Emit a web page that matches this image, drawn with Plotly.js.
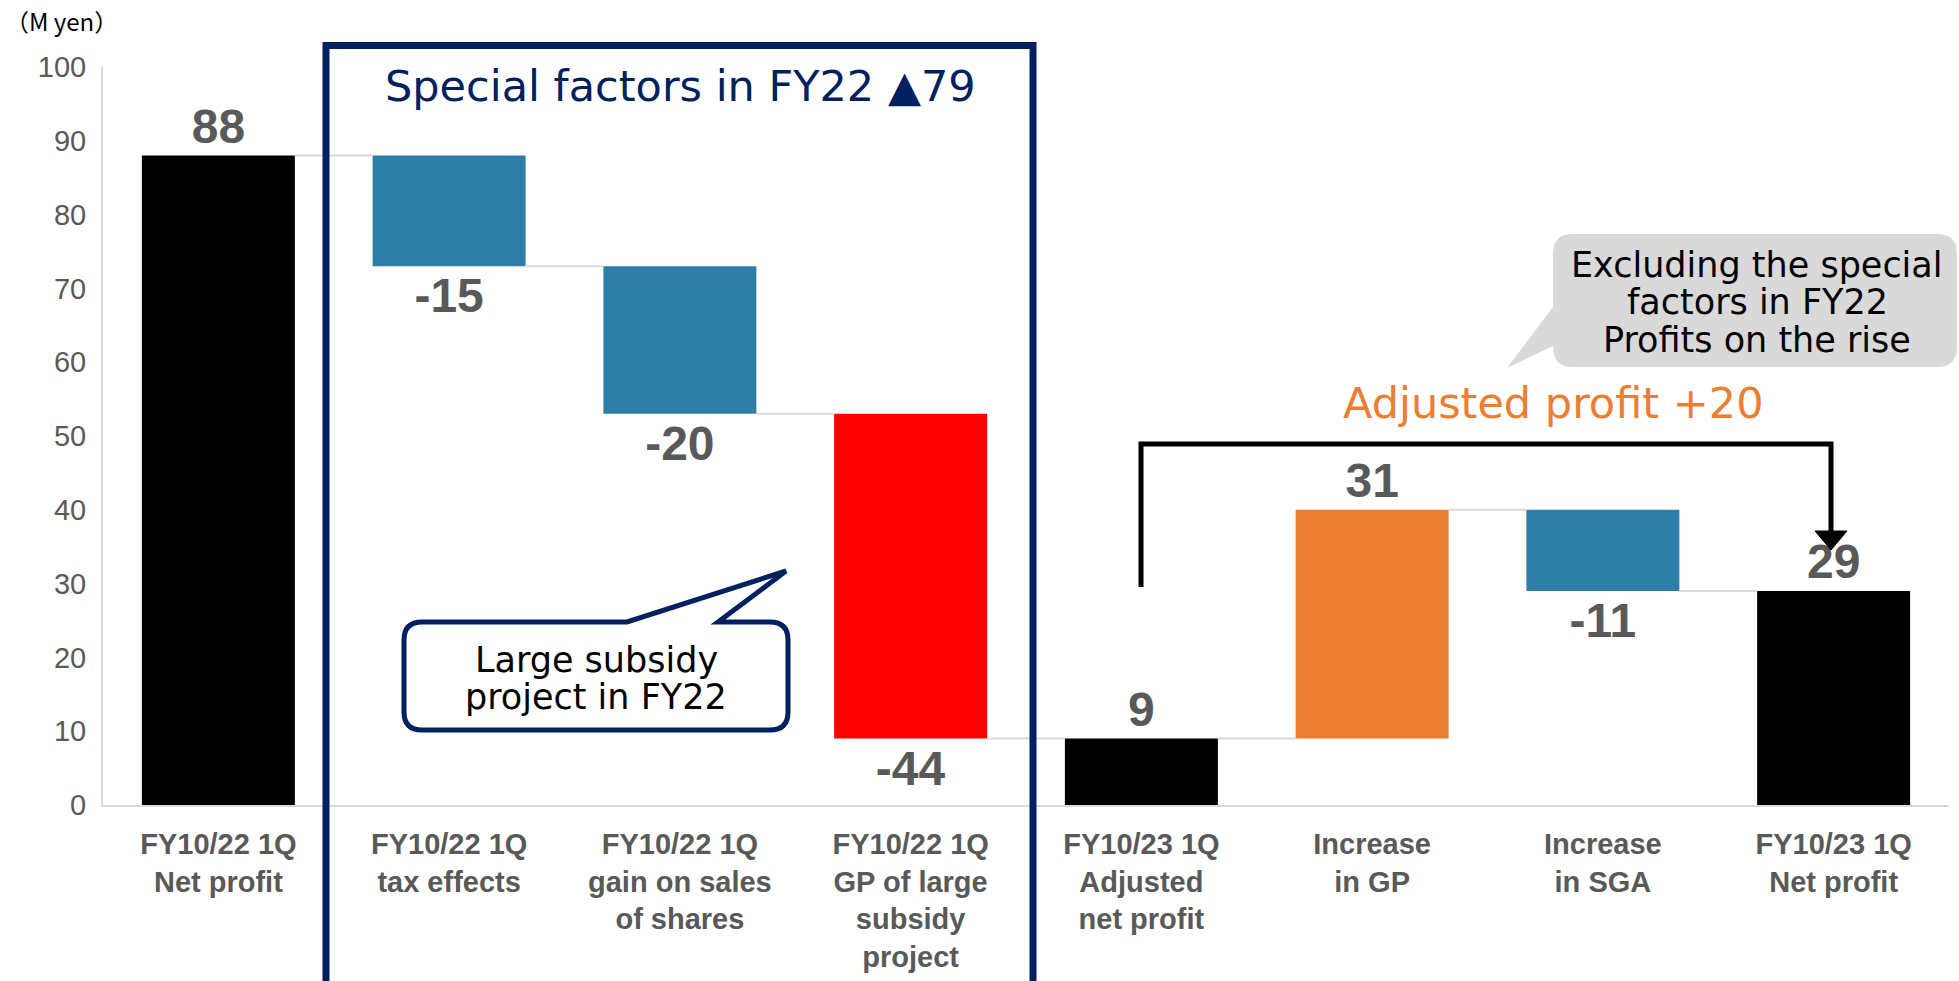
<!DOCTYPE html>
<html>
<head>
<meta charset="utf-8">
<script src="https://cdn.plot.ly/plotly-3.0.1.min.js"></script>
<style>html,body{margin:0;padding:0;background:#fff;}#chart{width:1959px;height:981px;}</style>
</head>
<body>
<div id="chart"></div>
<script>
// ---- data ----
const categories = [
  "FY10/22 1Q<br>Net profit",
  "FY10/22 1Q<br>tax effects",
  "FY10/22 1Q<br>gain on sales<br>of shares",
  "FY10/22 1Q<br>GP of large<br>subsidy<br>project",
  "FY10/23 1Q<br>Adjusted<br>net profit",
  "Increase<br>in GP",
  "Increase<br>in SGA",
  "FY10/23 1Q<br>Net profit"
];
const measures = ["total","relative","relative","relative","total","relative","relative","total"];
const values = [88, -15, -20, -44, 9, 31, -11, 29];
const barColors = ["#000000","#2E7DA7","#2E7DA7","#FF0000","#000000","#ED7D31","#2E7DA7","#000000"];
const yTicks = [0,10,20,30,40,50,60,70,80,90,100];
const calloutLines = ["Large subsidy", "project in FY22"];
const bubbleLines = ["Excluding the special", "factors in FY22", "Profits on the rise"];
const boxTitle = "Special factors in FY22 ▲79";
const bracketTitle = "Adjusted profit +20";
const unitLabel = "（M yen）";

// ---- waterfall geometry from data ----
const idx = categories.map((c,i)=>i);
const bases = [], heights = [], levels = [];
let level = 0;
values.forEach((v,i)=>{
  if (measures[i]==="total") { bases.push(0); heights.push(v); level = v; }
  else { bases.push(level); heights.push(v); level += v; }
  levels.push(level);
});
const bargap = 0.337, half = (1-bargap)/2;
const cx = [], cy = [];
for (let i=0;i<idx.length-1;i++){
  cx.push(idx[i]+half, idx[i+1]-half, null);
  cy.push(levels[i], levels[i], null);
}

// ---- layout helpers (pixel -> paper) ----
const L=103, T=67, W=1846, H=738;
const px = x => (x-L)/W;
const py = y => (T+H-y)/H;
function roundedCallout(x0,y0,x1,y1,r,tail){
  let p = `M${px(x0+r)},${py(y0)} `;
  if (tail && tail.edge==='top'){
    p += `L${px(tail.a)},${py(y0)} L${px(tail.tx)},${py(tail.ty)} L${px(tail.b)},${py(y0)} `;
  }
  p += `L${px(x1-r)},${py(y0)} Q${px(x1)},${py(y0)} ${px(x1)},${py(y0+r)} `;
  p += `L${px(x1)},${py(y1-r)} Q${px(x1)},${py(y1)} ${px(x1-r)},${py(y1)} `;
  p += `L${px(x0+r)},${py(y1)} Q${px(x0)},${py(y1)} ${px(x0)},${py(y1-r)} `;
  if (tail && tail.edge==='left'){
    p += `L${px(x0)},${py(tail.b)} L${px(tail.tx)},${py(tail.ty)} L${px(x0)},${py(tail.a)} `;
  }
  p += `L${px(x0)},${py(y0+r)} Q${px(x0)},${py(y0)} ${px(x0+r)},${py(y0)} Z`;
  return p;
}

const grey = "#595959";
const navy = "#002060";
const sansFont = "DejaVu Sans, Noto Sans, sans-serif";
const numFont = "Liberation Sans, Arial, sans-serif";

const traces = [
  {
    type: "scatter", mode: "lines", x: cx, y: cy,
    line: {color: "#D9D9D9", width: 2}, hoverinfo: "skip", showlegend: false
  },
  {
    type: "bar", x: idx, y: heights, base: bases,
    marker: {color: barColors, line: {width: 0}},
    text: values.map(v => String(v)),
    textposition: "outside", constraintext: "none", cliponaxis: false,
    textfont: {family: numFont, size: 48, color: grey, weight: 700},
    hoverinfo: "skip", showlegend: false
  }
];

const annotations = [
  {xref: "paper", yref: "paper", x: px(61), y: py(21), text: unitLabel, showarrow: false,
   font: {family: "Noto Sans CJK JP, sans-serif", size: 24, color: "#000"}, xanchor: "center", yanchor: "middle"},
  {xref: "paper", yref: "paper", x: px(680), y: py(86), text: boxTitle, showarrow: false,
   font: {family: sansFont, size: 43, color: navy}, xanchor: "center", yanchor: "middle"},
  {xref: "paper", yref: "paper", x: px(1553), y: py(403), text: bracketTitle, showarrow: false,
   font: {family: sansFont, size: 43, color: "#ED7D31"}, xanchor: "center", yanchor: "middle"}
];
const calloutY = [660, 697];
calloutLines.forEach((t,i)=>annotations.push(
  {xref: "paper", yref: "paper", x: px(596), y: py(calloutY[i]), text: t, showarrow: false,
   font: {family: sansFont, size: 35, color: "#000"}, xanchor: "center", yanchor: "middle"}));
const bubbleY = [265, 302, 340];
bubbleLines.forEach((t,i)=>annotations.push(
  {xref: "paper", yref: "paper", x: px(1757), y: py(bubbleY[i]), text: t, showarrow: false,
   font: {family: sansFont, size: 35, color: "#000"}, xanchor: "center", yanchor: "middle"}));

const layout = {
  width: 1959, height: 981,
  margin: {l: L, r: 1959-L-W, t: T, b: 981-T-H, pad: 0},
  paper_bgcolor: "#fff", plot_bgcolor: "#fff",
  bargap: bargap,
  showlegend: false,
  xaxis: {
    range: [-0.5, idx.length-0.5],
    tickmode: "array", tickvals: idx, ticktext: categories,
    showgrid: false, zeroline: false, showline: true, linecolor: "#D9D9D9", linewidth: 2,
    ticks: "", ticklabelstandoff: 12,
    tickfont: {family: numFont, size: 29, color: grey, weight: 700},
    fixedrange: true
  },
  yaxis: {
    range: [0, 100], tickmode: "array", tickvals: yTicks,
    showgrid: false, zeroline: false, showline: true, linecolor: "#D9D9D9", linewidth: 2,
    ticks: "", ticklabelstandoff: 9,
    tickfont: {family: numFont, size: 29, color: grey},
    fixedrange: true
  },
  shapes: [
    {type: "rect", xref: "paper", yref: "paper", x0: px(326), x1: px(1033), y0: py(1000), y1: py(45.5),
     line: {color: navy, width: 7}, fillcolor: "rgba(0,0,0,0)", layer: "above"},
    {type: "path", xref: "paper", yref: "paper",
     path: roundedCallout(404, 622, 788, 730, 18, {edge: "top", a: 627, b: 718, tx: 786, ty: 571}),
     line: {color: navy, width: 5}, fillcolor: "#FFFFFF", layer: "above"},
    {type: "path", xref: "paper", yref: "paper",
     path: roundedCallout(1553, 234, 1957, 367, 20, {edge: "left", a: 307, b: 346, tx: 1507, ty: 368}),
     line: {width: 0}, fillcolor: "#D9D9D9", layer: "above"},
    {type: "path", xref: "paper", yref: "paper",
     path: `M${px(1141)},${py(587)} L${px(1141)},${py(444)} L${px(1831)},${py(444)} L${px(1831)},${py(534)}`,
     line: {color: "#000", width: 5}, layer: "above"},
    {type: "path", xref: "paper", yref: "paper",
     path: `M${px(1815)},${py(531)} L${px(1847)},${py(531)} L${px(1831)},${py(550)} Z`,
     line: {color: "#000", width: 1}, fillcolor: "#000", layer: "above"}
  ],
  annotations: annotations
};

Plotly.newPlot("chart", traces, layout, {displayModeBar: false, staticPlot: true});
</script>
</body>
</html>
